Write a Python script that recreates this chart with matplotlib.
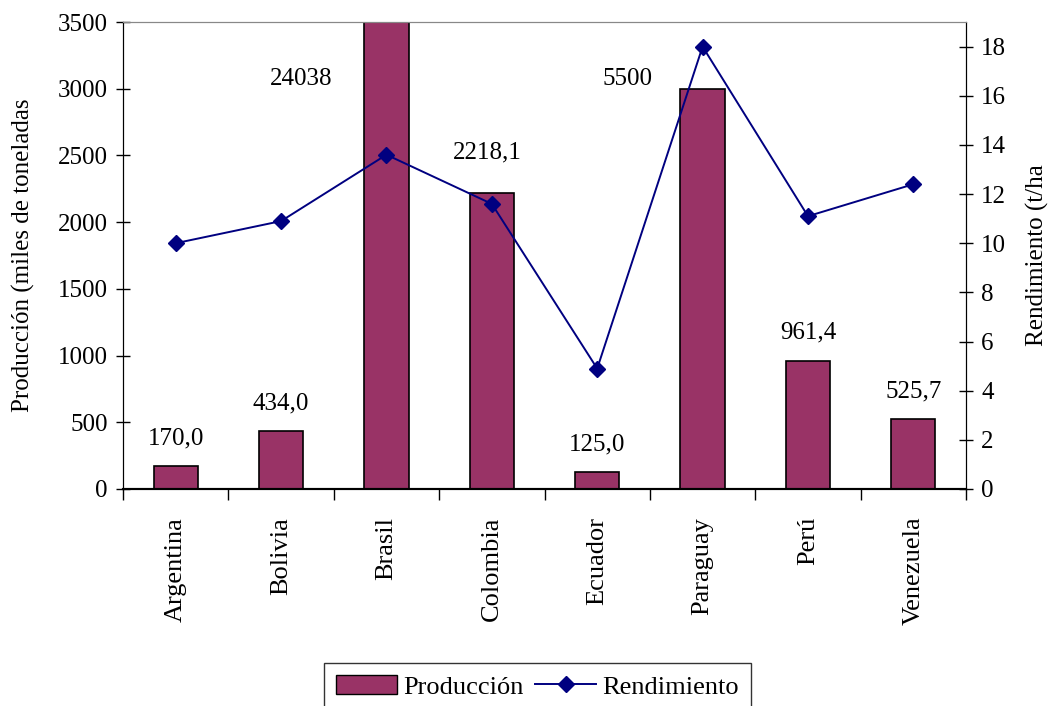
import matplotlib
matplotlib.use("Agg")
import matplotlib.pyplot as plt
from matplotlib.ticker import FixedLocator, NullFormatter
from matplotlib.patches import Patch
from matplotlib.lines import Line2D

plt.rcParams['font.family'] = ['Liberation Serif', 'DejaVu Serif']

paises = ["Argentina", "Bolivia", "Brasil", "Colombia", "Ecuador", "Paraguay", "Perú", "Venezuela"]
produccion = [170.0, 434.0, 24038, 2218.1, 125.0, 3000, 961.4, 525.7]
etiquetas = ["170,0", "434,0", "24038", "2218,1", "125,0", "5500", "961,4", "525,7"]
rendimiento = [10.0, 10.9, 13.6, 11.6, 4.9, 18.0, 11.1, 12.4]

bar_color = "#993366"
line_color = "#000080"
FS = 18

fig = plt.figure(figsize=(10.52, 7.06), dpi=100)
ax = fig.add_axes([0.1169, 0.3074, 0.8014, 0.6614])
ax2 = ax.twinx()

x = list(range(len(paises)))
ax.bar(x, produccion, width=0.42, color=bar_color, edgecolor="black", linewidth=1.2, zorder=2)
ax.set_ylim(0, 3500)
ax.set_xlim(-0.5, len(paises) - 0.5)
ax.set_yticks(range(0, 3501, 500))

# data labels
special = {2: (-0.81, 3070), 5: (-0.71, 3070)}
for i, (v, lab) in enumerate(zip(produccion, etiquetas)):
    if i in (2, 5):
        dx, yy = special[i]
        ax.text(i + dx, yy, lab, ha="center", va="center", fontsize=FS)
    elif i == 3:
        ax.annotate(lab, (i - 0.04, v), xytext=(0, 29), textcoords="offset points",
                    ha="center", va="center", fontsize=FS)
    else:
        ax.annotate(lab, (i, v), xytext=(0, 20), textcoords="offset points",
                    ha="center", va="center", fontsize=FS)

ax2.plot(x, rendimiento, color=line_color, linewidth=1.4, marker="D", markersize=8, zorder=3)
ax2.set_ylim(0, 19)
ax2.set_yticks(range(0, 19, 2))

# x ticks at category boundaries
ax.xaxis.set_major_locator(FixedLocator([i - 0.5 for i in range(len(paises) + 1)]))
ax.xaxis.set_major_formatter(NullFormatter())
ax.xaxis.set_minor_locator(FixedLocator(x))
ax.set_xticklabels(paises, minor=True, rotation=90, fontsize=19)
ax.tick_params(axis="x", which="major", direction="out", length=8, width=1)
ax.tick_params(axis="x", which="minor", length=0, pad=20)

ax.tick_params(axis="y", direction="inout", length=10, width=1, labelsize=FS, pad=6)
ax2.tick_params(axis="y", direction="inout", length=10, width=1, labelsize=FS, pad=6)

for a in (ax, ax2):
    a.spines["top"].set_color("#888888")
    a.spines["left"].set_color("black")
    a.spines["right"].set_color("black")
    a.spines["bottom"].set_color("black")
    a.spines["bottom"].set_linewidth(1.5)

ax.set_ylabel("Producción (miles de toneladas", fontsize=FS, labelpad=16)
ax2.set_ylabel("Rendimiento (t/ha", fontsize=FS, labelpad=14)

handles = [Patch(facecolor=bar_color, edgecolor="black", label="Producción"),
           Line2D([0], [0], color=line_color, marker="D", markersize=8, linewidth=1.4, label="Rendimiento")]
leg = fig.legend(handles=handles, loc="lower center", bbox_to_anchor=(0.511, -0.025), ncol=2,
                 fontsize=19, frameon=True, fancybox=False, edgecolor="black",
                 handlelength=2.3, columnspacing=0.45, handletextpad=0.25, borderpad=0.45)
leg.get_frame().set_linewidth(1.0)

fig.savefig("out.png", dpi=100)
